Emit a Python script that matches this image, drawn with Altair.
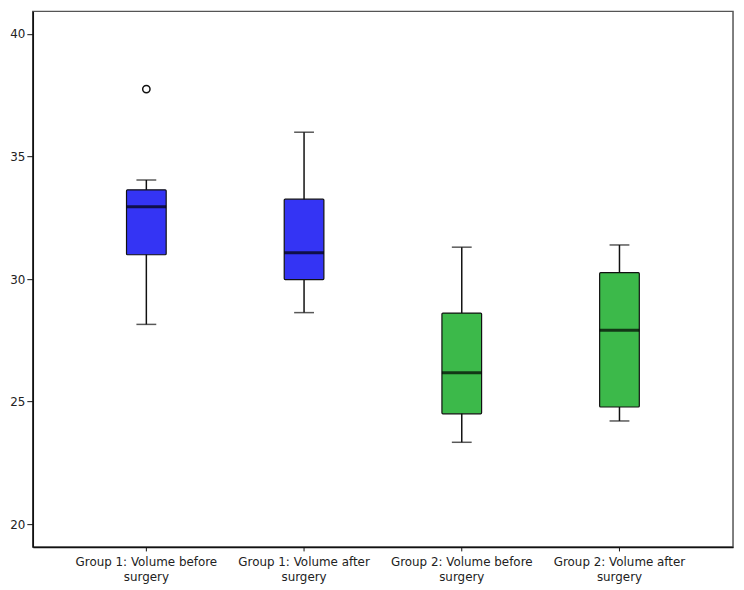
import altair as alt
import pandas as pd

categories = [
    "Group 1: Volume before surgery",
    "Group 1: Volume after surgery",
    "Group 2: Volume before surgery",
    "Group 2: Volume after surgery",
]
lower_whisker = [28.15, 28.63, 23.34, 24.21]
q1 = [30.99, 29.98, 24.50, 24.78]
median = [32.95, 31.07, 26.18, 27.91]
q3 = [33.64, 33.26, 28.61, 30.26]
upper_whisker = [34.04, 35.99, 31.30, 31.39]
group = ["Group 1", "Group 1", "Group 2", "Group 2"]

outlier_category = ["Group 1: Volume before surgery"]
outlier_value = [37.75]

y_ticks = [20, 25, 30, 35, 40]
colors = {"Group 1": "#3434F4", "Group 2": "#3CB94A"}

df = pd.DataFrame({
    "cat": categories,
    "lo": lower_whisker,
    "q1": q1,
    "med": median,
    "q3": q3,
    "hi": upper_whisker,
    "group": group,
})
out_df = pd.DataFrame({"cat": outlier_category, "v": outlier_value})

label_expr = ("[substring(datum.label, 0, lastindexof(datum.label, ' ')), "
              "substring(datum.label, lastindexof(datum.label, ' ') + 1)]")

x_enc = alt.X(
    "cat:N",
    sort=categories,
    title=None,
    scale=alt.Scale(paddingInner=0, paddingOuter=0.22),
    axis=alt.Axis(
        labelAngle=0,
        labelExpr=label_expr,
        labelFont="DejaVu Sans",
        labelFontSize=12,
        labelColor="#222222",
        labelLineHeight=15,
        labelPadding=6,
        tickSize=4,
        tickColor="#111111",
        domainColor="#111111",
        domainWidth=1.5,
        labelLimit=300,
    ),
)

y_scale = alt.Scale(domain=[19.07, 40.92], nice=False, zero=False)
y_axis = alt.Axis(
    values=y_ticks,
    grid=False,
    title=None,
    labelFont="DejaVu Sans",
    labelFontSize=12,
    labelColor="#222222",
    tickSize=6,
    tickColor="#111111",
    domainColor="#111111",
    domainWidth=1.5,
    labelPadding=2,
)

base = alt.Chart(df)

whisker = base.mark_rule(color="#111111", strokeWidth=1.5).encode(
    x=x_enc,
    y=alt.Y("lo:Q", scale=y_scale, axis=y_axis),
    y2="hi:Q",
)

box = base.mark_bar(size=40, stroke="#111111", strokeWidth=1.2, cornerRadius=1).encode(
    x=x_enc,
    y=alt.Y("q1:Q", scale=y_scale),
    y2="q3:Q",
    color=alt.Color("group:N", scale=alt.Scale(domain=list(colors.keys()),
                                               range=list(colors.values())), legend=None),
)

med = base.mark_tick(size=40, thickness=3, color="#000000").encode(
    x=x_enc,
    y=alt.Y("med:Q", scale=y_scale),
)

cap_lo = base.mark_tick(size=20, thickness=1.5, color="#111111").encode(
    x=x_enc,
    y=alt.Y("lo:Q", scale=y_scale),
)
cap_hi = base.mark_tick(size=20, thickness=1.5, color="#111111").encode(
    x=x_enc,
    y=alt.Y("hi:Q", scale=y_scale),
)

outliers = alt.Chart(out_df).mark_point(
    shape="circle", size=55, filled=False, color="#111111", strokeWidth=1.5, opacity=1
).encode(
    x=x_enc,
    y=alt.Y("v:Q", scale=y_scale),
)

chart = alt.layer(whisker, box, med, cap_lo, cap_hi, outliers).properties(
    width=706,
    height=540,
    autosize=alt.AutoSizeParams(type="none"),
    padding={"left": 25, "top": 1, "right": 3, "bottom": 41},
).configure(
    background="white"
).configure_view(
    stroke="#555555",
    strokeWidth=1.5,
)

chart.save("out.html", embed_options={"renderer": "svg", "actions": False})
